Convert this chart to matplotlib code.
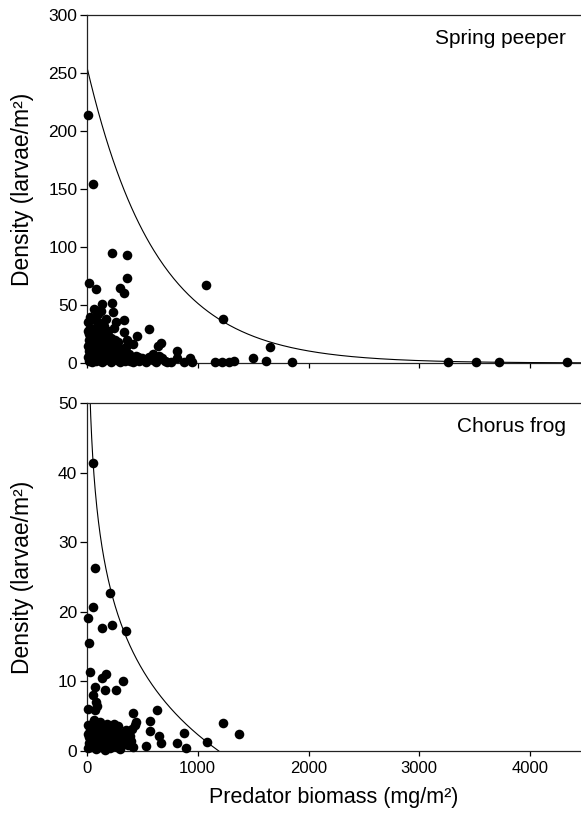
import matplotlib
matplotlib.use('Agg')

import matplotlib.pyplot as plt
import numpy as np

plt.rcParams['font.family'] = ['Liberation Sans', 'DejaVu Sans']

# ---- Spring peeper (top panel) ----
peeper_x = [10, 50, 20, 85, 225, 365, 360, 300, 330, 1075, 1225, 1650, 1850, 1620, 1500,
            1160, 1220, 1280, 1330, 3260, 3510, 3720, 4330,
            560, 665, 640, 333, 333, 450, 415, 810, 810, 930, 880, 950,
            225, 135, 234, 60, 100,
            5, 10, 15, 5, 20, 8, 15, 30, 25, 35, 40, 30, 45, 50, 50,
            60, 70, 80, 90, 65, 75, 85, 100, 110, 120, 105, 130, 115, 140, 145, 135, 95, 125, 150,
            160, 170, 180, 190, 200, 210, 220, 240, 250, 260, 270, 280, 290, 300, 175, 265, 215,
            310, 320, 340, 360, 380, 400, 420, 440, 470, 500, 350,
            530, 560, 600, 620, 650, 700, 720, 760, 600, 680,
            20, 40, 70, 95, 120, 150, 180, 200, 230, 120, 60, 160, 190, 250, 330, 390, 460, 540]
peeper_y = [214, 154, 69, 64, 95, 93, 73, 65, 60, 67, 38, 14, 1, 2, 4,
            1, 1, 1, 2, 1, 0.5, 0.5, 0.5,
            29, 17, 15, 37, 27, 23, 16, 10, 4, 4, 1, 1,
            52, 51, 44, 47, 42,
            35, 28, 20, 15, 10, 5, 2, 40, 30, 22, 14, 6, 1, 25, 10,
            38, 30, 22, 16, 12, 5, 2, 35, 28, 20, 12, 8, 3, 25, 14, 1, 45, 45, 32,
            20, 10, 4, 28, 15, 6, 1, 30, 20, 10, 3, 18, 8, 1, 38, 35, 22,
            12, 5, 2, 20, 8, 3, 1, 6, 2, 4, 14,
            1, 5, 3, 1, 6, 2, 0.5, 1, 8, 4,
            25, 18, 8, 25, 6, 20, 25, 10, 14, 33, 18, 3, 6, 5, 9, 2, 5, 3]
peeper_a = 255     # curve intercept
peeper_b = 0.0016  # decay rate

# ---- Chorus frog (bottom panel) ----
chorus_x = [55, 72, 55, 5, 20, 25, 210, 230, 140, 350, 325, 170, 135, 260, 160, 72, 55, 85, 95,
            5, 75, 420, 630, 565, 440, 430, 570, 380, 650, 665, 810, 880, 890, 1080, 1225, 1370, 530,
            5, 10, 15, 8, 25, 30, 35, 45, 50, 60, 70, 80, 90, 100, 110, 120, 130, 140, 150, 160,
            170, 180, 190, 200, 210, 220, 240, 250, 260, 270, 280, 290, 300, 310, 330, 350, 370,
            400, 420, 390, 60, 115,
            20, 40, 65, 85, 105, 125, 145, 165, 185, 205, 235, 265, 295, 340, 360, 410]
chorus_y = [41.4, 26.3, 20.7, 19.1, 15.5, 11.4, 22.7, 18.1, 17.7, 17.3, 10.0, 11.1, 10.5, 8.8, 8.8,
            9.2, 8.0, 7.0, 6.5, 6.0, 5.9, 5.5, 5.9, 4.3, 4.1, 3.8, 2.9, 2.7, 2.1, 1.2, 1.1, 2.6, 0.4,
            1.3, 4.0, 2.5, 0.7,
            3.8, 2.5, 1.2, 0.4, 3.0, 1.8, 0.6, 3.9, 2.2, 1.0, 3.2, 0.3, 2.0, 3.9, 1.2, 2.8, 0.5, 3.5,
            1.7, 0.2, 2.6, 3.9, 1.0, 3.0, 0.4, 2.0, 3.9, 1.3, 2.8, 0.6, 3.6, 1.8, 0.3, 2.5, 1.0, 3.0,
            0.8, 1.5, 0.5, 2.2, 4.5, 4.2,
            2.0, 0.9, 2.6, 1.5, 0.6, 1.9, 2.4, 0.8, 2.2, 1.6, 0.9, 1.9, 2.0, 1.8, 2.1, 3.2]
chorus_c = 13.5     # log-curve slope
chorus_x0 = 1190    # where the curve reaches zero

xmax = 4460
xticks = [0, 1000, 2000, 3000, 4000]

fig = plt.figure(figsize=(5.81, 8.16), dpi=100)
ax1 = fig.add_axes([0.1497, 0.5551, 0.8503, 0.4265])
ax2 = fig.add_axes([0.1497, 0.0797, 0.8503, 0.4265])


def style(ax):
    ax.spines['right'].set_visible(False)
    for s in ['left', 'bottom', 'top']:
        ax.spines[s].set_linewidth(0.9)
        ax.spines[s].set_color('#222222')
    ax.set_xlim(0, xmax)
    ax.set_xticks(xticks)
    ax.tick_params(axis='y', direction='out', length=5, width=0.9, labelsize=12.5, pad=2)
    ax.tick_params(axis='x', direction='out', length=3.5, width=0.9, labelsize=12, pad=4)
    ax.set_ylabel('Density (larvae/m²)', fontsize=16.5)
    ax.yaxis.set_label_coords(-0.107, 0.5)


# top
xs = np.linspace(0, xmax, 400)
ax1.plot(xs, peeper_a * np.exp(-peeper_b * xs), color='black', lw=0.8)
ax1.scatter(peeper_x, peeper_y, s=48, color='black', zorder=3, clip_on=False, linewidths=0)
style(ax1)
ax1.set_ylim(0, 300)
ax1.set_yticks([0, 50, 100, 150, 200, 250, 300])
ax1.set_xticklabels([])
ax1.text(0.97, 0.96, 'Spring peeper', transform=ax1.transAxes, ha='right', va='top', fontsize=15)

# bottom
xs2 = np.linspace(25, chorus_x0, 400)
ax2.plot(xs2, chorus_c * np.log(chorus_x0 / xs2), color='black', lw=0.8)
ax2.scatter(chorus_x, chorus_y, s=48, color='black', zorder=3, clip_on=False, linewidths=0)
style(ax2)
ax2.set_ylim(0, 50)
ax2.set_yticks([0, 10, 20, 30, 40, 50])
ax2.text(0.97, 0.96, 'Chorus frog', transform=ax2.transAxes, ha='right', va='top', fontsize=15)
ax2.set_xlabel('Predator biomass (mg/m²)', fontsize=15.5, labelpad=8)

fig.savefig('out.png', dpi=100)
